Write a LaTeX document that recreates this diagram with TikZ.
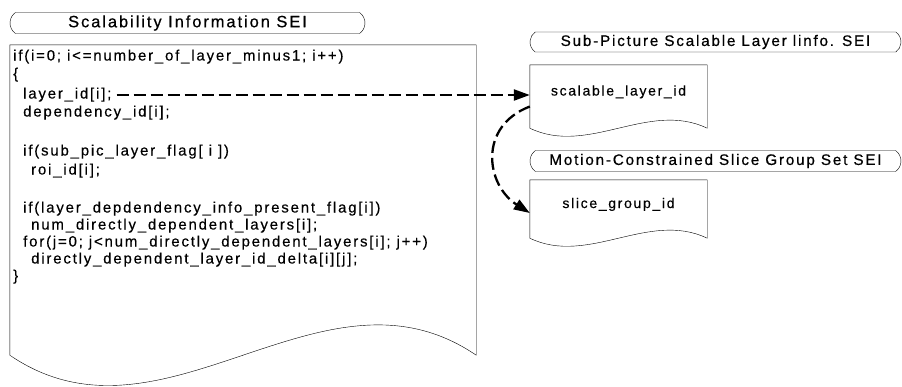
\documentclass[tikz,border=0pt]{standalone}
\usepackage{fontspec}
\setmainfont{Liberation Sans}
\newfontfamily\codefont{Liberation Sans}[LetterSpace=12,FakeBold=0.3]
\newfontfamily\headfont{Liberation Sans}[LetterSpace=12,FakeBold=0.6]
\usetikzlibrary{arrows.meta,positioning,calc,shapes.misc}

% outline of a sheet with a wavy lower edge
\newcommand{\sheet}[2]{%
  \draw[thin] (#1.south west) -- (#1.north west) -- (#1.north east) -- (#1.south east)
    .. controls ($(#1.south east)!0.33!(#1.south west)+(0,-#2)$) and ($(#1.south east)!0.67!(#1.south west)+(0,#2)$) .. (#1.south west);}

\begin{document}
\begin{tikzpicture}[x=1pt,y=-1pt,
  code/.style={anchor=west,inner sep=0pt,text height=10pt,text depth=3pt,font=\codefont\fontsize{15}{17}\selectfont},
  sei/.style={draw,thin,rounded rectangle,rounded rectangle arc length=110,inner sep=0pt,minimum height=21pt},
  doc/.style={inner sep=0pt,minimum width=177pt,text height=10pt,text depth=12pt,font=\codefont\fontsize{14}{16}\selectfont},
  link/.style={line width=2.3pt,dash pattern=on 12pt off 5pt,-{Triangle[length=16pt,width=11pt]}},
]
\useasboundingbox (0,0) rectangle (902,386);

% left: scalability information SEI
\node[sei,minimum width=355pt,font=\headfont\fontsize{16.4}{18}\selectfont] (sihead) at (187.5,23) {Scalability Information SEI};
\node[inner sep=0pt,minimum width=466pt,minimum height=310pt] (sidoc) at (243,200) {};
\sheet{sidoc}{105}

\node[code] (for1) at (13,57) {if(i=0; i<=number\_of\_layer\_minus1; i++)};
\node[code] (open) at (13,75) {\{};
\node[code] (lid) at (23,95) {layer\_id[i];};
\node[code] (did) at (23,113) {dependency\_id[i];};
\node[code] (ifsub) at (23,152) {if(sub\_pic\_layer\_flag[ i ])};
\node[code] (roi) at (31,171) {roi\_id[i];};
\node[code] (ifdep) at (23,209) {if(layer\_depdendency\_info\_present\_flag[i])};
\node[code] (num) at (31,226) {num\_directly\_dependent\_layers[i];};
\node[code] (for2) at (23,243) {for(j=0; j<num\_directly\_dependent\_layers[i]; j++)};
\node[code] (delta) at (31,260) {directly\_dependent\_layer\_id\_delta[i][j];};
\node[code] (close) at (13,277) {\}};

% right: the two other SEI messages
\node[sei,minimum width=371pt,minimum height=20pt,font=\headfont\fontsize{15.2}{18}\selectfont] (sphead) at (715.5,42) {Sub-Picture Scalable Layer linfo. SEI};
\node[doc,minimum height=63pt] (sldoc) at (618.5,96.5) {scalable\_layer\_id};
\sheet{sldoc}{28}

\node[sei,minimum width=371pt,font=\headfont\fontsize{15.2}{18}\selectfont] (mchead) at (715.5,161) {Motion-Constrained Slice Group Set SEI};
\node[doc,minimum height=58pt] (mcdoc) at (618.5,209) {slice\_group\_id};
\sheet{mcdoc}{28}

% links
\coordinate (lidend) at ([xshift=5pt]lid.east);
\draw[link] (lidend) -- (lidend -| sldoc.west);
\draw[link] ([yshift=-10pt]sldoc.west) .. controls +(-52,20) and +(-44,-28) .. ([yshift=-4pt]mcdoc.west);
\end{tikzpicture}
\end{document}
